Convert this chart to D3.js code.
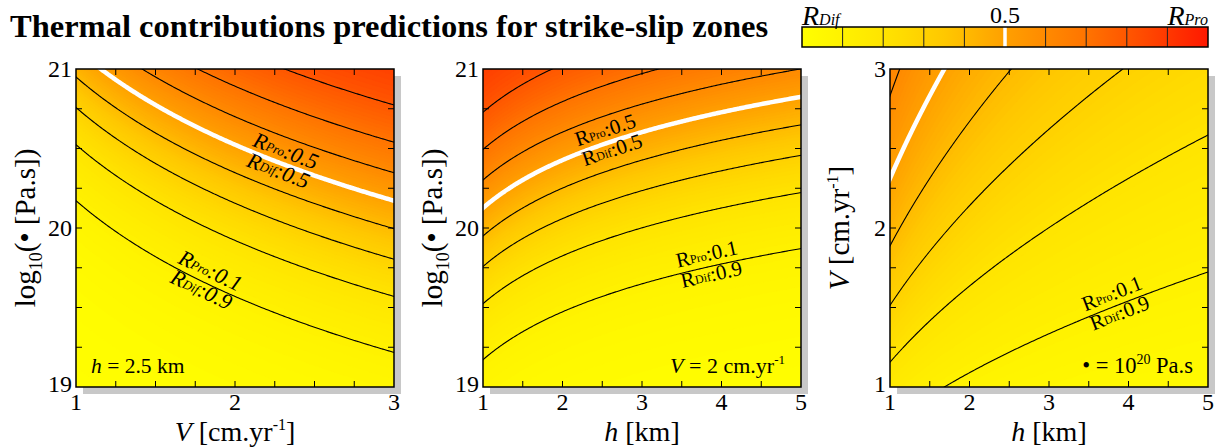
<!DOCTYPE html>
<html><head><meta charset="utf-8">
<script src="https://cdn.jsdelivr.net/npm/d3@7"></script>
<style>body{margin:0;background:#fff} svg{display:block} text{font-family:"Liberation Serif","Times New Roman",serif;fill:#000}</style>
</head><body><svg id="c" width="1222" height="448"></svg>
<script>
// Model: odds(R_Pro) = 10^logK * eta * V^2 / h
const logK = -20.728;
const exponentEta = 1, exponentV = 2, exponentH = -1;
const levels = [0.1,0.2,0.3,0.4,0.5,0.6,0.7,0.8,0.9];
const xDomains = [[1,3],[1,5],[1,5]];
const yDomains = [[19,21],[19,21],[1,3]];
const fixedH = 2.5, fixedV = 2, fixedLogEta = 20;
const xTicksMajor = [[1,2,3],[1,2,3,4,5],[1,2,3,4,5]];
const yTicksMajor = [[19,20,21],[19,20,21],[1,2,3]];
const xMinorStep = [0.25,0.5,0.5];
const yMinorStep = [0.25,0.25,0.25];
const colorStopPos = [0,0.2,0.35,0.5,0.7,0.85,1];
const colorStopCol = ["#ffff00","#ffe400","#ffc800","#ffa000","#ff7400","#ff4800","#ff1800"];
const labelAnchors = [[{level:0.5,x:2.29},{level:0.1,x:1.81}],[{level:0.5,x:2.59},{level:0.1,x:3.85}],[{level:0.1,x:3.85}]];
const panelLeft = [76,483,890];
const title = "Thermal contributions predictions for strike-slip zones";

function logOdds(p, x, y){
  let V, h, le;
  if(p===0){V=x; le=y; h=fixedH;}
  else if(p===1){h=x; le=y; V=fixedV;}
  else {h=x; V=y; le=fixedLogEta;}
  return logK + exponentEta*le + exponentV*Math.log10(V) + exponentH*Math.log10(h);
}
function R(p,x,y){ return 1/(1+Math.pow(10,-logOdds(p,x,y))); }

const color = d3.scaleLinear().domain(colorStopPos).range(colorStopCol).interpolate(d3.interpolateRgb);

const svg = d3.select("#c");
const plotTop = 69, size = 318;

svg.append("text").attr("x",10).attr("y",37).attr("font-size",32.5).attr("font-weight","bold").text(title);

// colorbar
const cb = {x:802,y:27,w:406,h:20};
const defs = svg.append("defs");
const lg = defs.append("linearGradient").attr("id","cbg");
d3.range(0,1.0001,0.05).forEach(t=>lg.append("stop").attr("offset",t).attr("stop-color",color(t)));
const cbx = d3.scaleLinear().domain([0,1]).range([cb.x,cb.x+cb.w]);
svg.append("rect").attr("x",cb.x).attr("y",cb.y).attr("width",cb.w).attr("height",cb.h).attr("fill","url(#cbg)");
levels.forEach(l=>{
  svg.append("line").attr("x1",cbx(l)).attr("x2",cbx(l)).attr("y1",cb.y).attr("y2",cb.y+cb.h)
    .attr("stroke", l===0.5?"#fff":"#222").attr("stroke-width", l===0.5?3.5:1);
});
svg.append("rect").attr("x",cb.x).attr("y",cb.y).attr("width",cb.w).attr("height",cb.h).attr("fill","none").attr("stroke","#000").attr("stroke-width",1.5);
{
  const t1 = svg.append("text").attr("x",cb.x).attr("y",25).attr("font-style","italic");
  t1.append("tspan").attr("font-size",28).text("R");
  t1.append("tspan").attr("font-size",16).text("Dif");
  const t2 = svg.append("text").attr("x",cb.x+cb.w).attr("y",25).attr("text-anchor","end").attr("font-style","italic");
  t2.append("tspan").attr("font-size",28).text("R");
  t2.append("tspan").attr("font-size",16).text("Pro");
  svg.append("text").attr("x",cbx(0.5)).attr("y",23).attr("text-anchor","middle").attr("font-size",24).text("0.5");
}

function rLabel(g, sub, val, italic, fs){
  const t = g.append("text").attr("text-anchor","middle").attr("dominant-baseline","middle");
  if(italic) t.attr("font-style","italic");
  t.append("tspan").attr("font-size",fs).text("R");
  t.append("tspan").attr("font-size",Math.round(fs*0.58)).attr("dy",1).text(sub);
  t.append("tspan").attr("font-size",fs).attr("dy",-1).text(":"+val);
  return t;
}

for(let p=0;p<3;p++){
  const L = panelLeft[p];
  const x = d3.scaleLinear().domain(xDomains[p]).range([L,L+size]);
  const y = d3.scaleLinear().domain(yDomains[p]).range([plotTop+size,plotTop]);
  const g = svg.append("g");
  g.append("rect").attr("x",L+7).attr("y",plotTop+7).attr("width",size).attr("height",size).attr("fill","#c8c8c8");
  defs.append("clipPath").attr("id","clip"+p).append("rect").attr("x",L).attr("y",plotTop).attr("width",size).attr("height",size);
  const plot = g.append("g").attr("clip-path",`url(#clip${p})`);
  const n = 212, m = 4, N = n+2*m, cell = size/n;
  const vals = new Float64Array(N*N);
  for(let j=0;j<N;j++){
    const py = plotTop + (j-m+0.5)*cell;
    const yv = y.invert(py);
    for(let i=0;i<N;i++){
      const px = L + (i-m+0.5)*cell;
      vals[j*N+i] = R(p, x.invert(px), yv);
    }
  }
  const proj = d3.geoIdentity().scale(cell).translate([L-m*cell, plotTop-m*cell]);
  const path = d3.geoPath(proj);
  const fillTh = d3.range(0,1,0.01);
  const fills = d3.contours().size([N,N]).thresholds(fillTh)(vals);
  plot.selectAll("path.f").data(fills).join("path").attr("class","f").attr("d",path)
    .attr("fill",d=>color(d.value+0.005)).attr("stroke",d=>color(d.value+0.005)).attr("stroke-width",0.3);
  const lines = d3.contours().size([N,N]).thresholds(levels)(vals);
  plot.selectAll("path.l").data(lines).join("path").attr("class","l").attr("d",path)
    .attr("fill","none").attr("stroke",d=>Math.abs(d.value-0.5)<1e-9?"#fff":"#000")
    .attr("stroke-width",d=>Math.abs(d.value-0.5)<1e-9?4.5:1.1);
  g.append("rect").attr("x",L).attr("y",plotTop).attr("width",size).attr("height",size).attr("fill","none").attr("stroke","#000").attr("stroke-width",1.5);
  const tl = 6;
  const xt = d3.range(xDomains[p][0]+xMinorStep[p], xDomains[p][1]-1e-9, xMinorStep[p]);
  const yt = d3.range(yDomains[p][0]+yMinorStep[p], yDomains[p][1]-1e-9, yMinorStep[p]);
  xt.forEach(v=>{
    g.append("line").attr("x1",x(v)).attr("x2",x(v)).attr("y1",plotTop+size).attr("y2",plotTop+size-tl).attr("stroke","#000");
    g.append("line").attr("x1",x(v)).attr("x2",x(v)).attr("y1",plotTop).attr("y2",plotTop+tl).attr("stroke","#000");
  });
  yt.forEach(v=>{
    g.append("line").attr("y1",y(v)).attr("y2",y(v)).attr("x1",L).attr("x2",L+tl).attr("stroke","#000");
    g.append("line").attr("y1",y(v)).attr("y2",y(v)).attr("x1",L+size).attr("x2",L+size-tl).attr("stroke","#000");
  });
  xTicksMajor[p].forEach(v=>g.append("text").attr("x",x(v)).attr("y",plotTop+size+23).attr("text-anchor","middle").attr("font-size",24).text(v));
  yTicksMajor[p].forEach((v,k)=>g.append("text").attr("x",L-4).attr("y",y(v)+(k===0?-3:0)).attr("dy","0.33em").attr("text-anchor","end").attr("font-size",24).text(v));
  const xl = g.append("text").attr("x",L+size/2).attr("y",441).attr("text-anchor","middle").attr("font-size",28);
  if(p===0){
    xl.append("tspan").attr("font-style","italic").text("V");
    xl.append("tspan").text(" [cm.yr");
    xl.append("tspan").attr("font-size",16).attr("dy",-11).text("-1");
    xl.append("tspan").attr("dy",11).text("]");
  } else {
    xl.append("tspan").attr("font-style","italic").text("h");
    xl.append("tspan").text(" [km]");
  }
  const yl = g.append("text").attr("transform",`translate(${L-41},${plotTop+size/2}) rotate(-90)`).attr("text-anchor","middle").attr("font-size",29);
  if(p<2){
    yl.append("tspan").text("log");
    yl.append("tspan").attr("font-size",18).attr("dy",7).text("10");
    yl.append("tspan").attr("dy",-7).text("(• [Pa.s])");
  } else {
    yl.append("tspan").attr("font-style","italic").text("V");
    yl.append("tspan").text(" [cm.yr");
    yl.append("tspan").attr("font-size",16).attr("dy",-11).text("-1");
    yl.append("tspan").attr("dy",11).text("]");
  }
  if(p===0){
    const a = g.append("text").attr("x",L+15).attr("y",373).attr("font-size",21.5);
    a.append("tspan").attr("font-style","italic").text("h");
    a.append("tspan").text(" = 2.5 km");
  } else if(p===1){
    const a = g.append("text").attr("x",L+size-16).attr("y",373).attr("font-size",22).attr("text-anchor","end");
    a.append("tspan").attr("font-style","italic").text("V");
    a.append("tspan").text(" = 2 cm.yr");
    a.append("tspan").attr("font-size",13).attr("dy",-9).text("-1");
  } else {
    const a = g.append("text").attr("x",L+size-15).attr("y",373).attr("font-size",22.5).attr("text-anchor","end");
    a.append("tspan").text("• = 10");
    a.append("tspan").attr("font-size",14).attr("dy",-9).text("20");
    a.append("tspan").attr("dy",9).text(" Pa.s");
  }
  labelAnchors[p].forEach(an=>{
    const solve = xv=>{
      let lo=yDomains[p][0]-5, hi=yDomains[p][1]+5;
      if(p===2){lo=0.01;}
      const f = yv=>R(p,xv,yv)-an.level;
      const inc = f(hi)>f(lo);
      for(let k=0;k<80;k++){const mid=(lo+hi)/2; if((f(mid)>0)===inc) hi=mid; else lo=mid;}
      return (lo+hi)/2;
    };
    const x0 = x(an.x), y0 = y(solve(an.x));
    const dx = x(an.x+0.01)-x(an.x-0.01), dy = y(solve(an.x+0.01))-y(solve(an.x-0.01));
    const ang = Math.atan2(dy,dx)*180/Math.PI;
    const lab = g.append("g").attr("transform",`translate(${x0},${y0}) rotate(${ang})`);
    const fs = p===0?22:21;
    rLabel(lab,"Pro",d3.format(".1f")(an.level),p===0,fs).attr("y",-11);
    rLabel(lab,"Dif",d3.format(".1f")(1-an.level),p===0,fs).attr("y",10);
  });
}
</script></body></html>
